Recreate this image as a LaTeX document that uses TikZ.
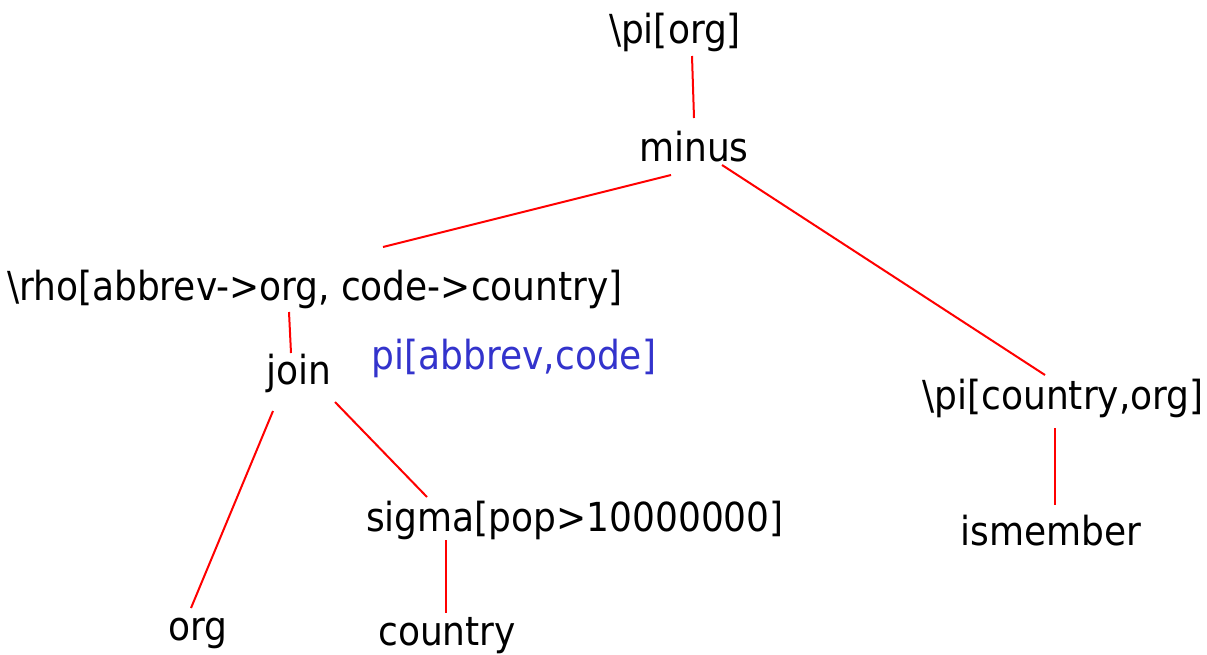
\documentclass[tikz,border=0pt]{standalone}
\usepackage{fontspec}
\setmainfont{DejaVu Sans Condensed}
\usetikzlibrary{calc}
\begin{document}
\begin{tikzpicture}[x=1pt,y=-1pt,
  lbl/.style={inner sep=0pt, font=\fontsize{40}{42}\selectfont},
  edge/.style={draw=red, line width=2pt}]
\useasboundingbox (0,0) rectangle (1207,654);
\node[lbl] (piorg) at (675,32) {\textbackslash pi[org]};
\node[lbl] (minus) at (694,147) {minus};
\node[lbl] (rho) at (315,289) {\textbackslash rho[abbrev->org, code->country]};
\node[lbl] (join) at (299,373) {join};
\node[lbl, text={rgb,255:red,51;green,51;blue,204}] (piab) at (514,358) {pi[abbrev,code]};
\node[lbl] (picorg) at (1063,398) {\textbackslash pi[country,org]};
\node[lbl] (sigma) at (575,520) {sigma[pop>10000000]};
\node[lbl] (ismember) at (1051,531) {ismember};
\node[lbl] (org) at (198,633) {org};
\node[lbl] (country) at (447,636) {country};
\draw[edge] ($(piorg)+(17,24)$) -- ($(minus)+(0,-29)$);
\draw[edge] ($(minus)+(-23,28)$) -- ($(rho)+(68,-42)$);
\draw[edge] ($(minus)+(28,18)$) -- ($(picorg)+(-18,-23)$);
\draw[edge] ($(rho)+(-26,23)$) -- ($(join)+(-8,-20)$);
\draw[edge] ($(join)+(-26,38)$) -- ($(org)+(-7,-25)$);
\draw[edge] ($(join)+(36,29)$) -- ($(sigma)+(-148,-23)$);
\draw[edge] ($(sigma)+(-129,20)$) -- ($(country)+(-1,-23)$);
\draw[edge] ($(picorg)+(-8,30)$) -- ($(ismember)+(4,-26)$);
\end{tikzpicture}
\end{document}
